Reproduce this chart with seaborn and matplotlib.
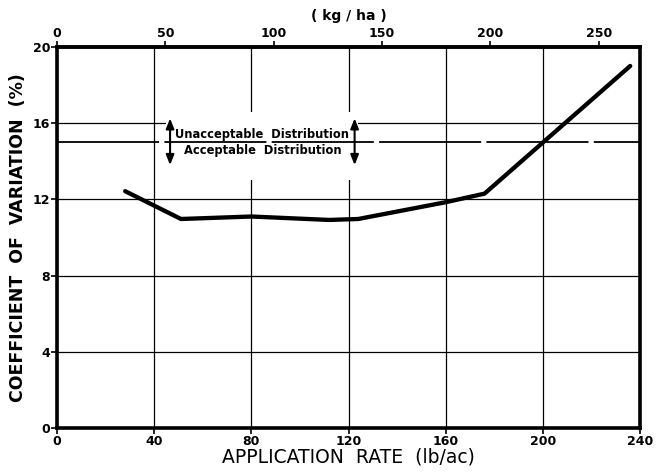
import matplotlib
matplotlib.use("Agg")
import matplotlib.pyplot as plt
import seaborn as sns
import pandas as pd
from matplotlib.patches import Rectangle

# ---- data ----
rate_lb_ac = [28, 51, 80, 112, 124, 160, 176, 236]
cv_percent = [12.43, 10.97, 11.1, 10.92, 10.97, 11.85, 12.3, 19.0]
threshold_cv = 15
x_ticks = [0, 40, 80, 120, 160, 200, 240]
y_ticks = [0, 4, 8, 12, 16, 20]
top_ticks_kg_ha = [0, 50, 100, 150, 200, 250]
LB_AC_TO_KG_HA = 1.12085

df = pd.DataFrame({"rate": rate_lb_ac, "cv": cv_percent})

sns.set_theme(style="white")
plt.rcParams["font.family"] = ["DejaVu Sans"]
plt.rcParams.update({"text.color": "black", "axes.labelcolor": "black",
                     "xtick.color": "black", "ytick.color": "black"})

fig = plt.figure(figsize=(6.57, 4.74), dpi=100)
ax = fig.add_axes([0.087, 0.097, 0.887, 0.804])

sns.lineplot(data=df, x="rate", y="cv", ax=ax, color="black", linewidth=3.1,
             zorder=5, sort=False)

ax.set_xlim(0, 240)
ax.set_ylim(0, 20)
ax.set_xticks(x_ticks)
ax.set_yticks(y_ticks)
ax.grid(True, color="black", linewidth=0.9, zorder=0)
ax.set_axisbelow(True)

# blank area behind the annotation (grid interrupted there)
ax.add_patch(Rectangle((45, 13.0), 79, 3.6, facecolor="white", edgecolor="none", zorder=1))

# threshold line (long dashes)
lw = 1.3
ax.axhline(threshold_cv, color="black", linewidth=lw, zorder=2,
           dashes=(73.5 / lw, 3.8 / lw))

# annotation arrows
for xa in (46.5, 122.5):
    ax.annotate("", xy=(xa, 16.25), xytext=(xa, 15.0),
                arrowprops=dict(arrowstyle="-|>,head_length=0.5,head_width=0.2",
                                color="black", lw=1.5, shrinkA=0, shrinkB=0), zorder=3)
    ax.annotate("", xy=(xa, 13.8), xytext=(xa, 15.0),
                arrowprops=dict(arrowstyle="-|>,head_length=0.5,head_width=0.2",
                                color="black", lw=1.5, shrinkA=0, shrinkB=0), zorder=3)

ax.text(84.5, 15.08, "Unacceptable  Distribution", ha="center", va="bottom",
        fontsize=8.3, fontweight="bold", zorder=4)
ax.text(84.5, 14.88, "Acceptable  Distribution", ha="center", va="top",
        fontsize=8.3, fontweight="bold", zorder=4)

for s in ax.spines.values():
    s.set_visible(True)
    s.set_color("black")
    s.set_linewidth(2.6)

ax.tick_params(axis="both", which="both", direction="out", length=4, width=1.2,
               color="black", labelcolor="black", labelsize=9, pad=1)
ax.tick_params(axis="x", bottom=True, top=False)
ax.tick_params(axis="y", left=True, right=False)
for lab in ax.get_xticklabels() + ax.get_yticklabels():
    lab.set_fontweight("bold")

ax.set_xlabel("APPLICATION  RATE  (lb/ac)", fontsize=13.5, labelpad=0, color="black")
ax.set_ylabel("COEFFICIENT  OF  VARIATION  (%)", fontsize=12.5, fontweight="bold",
              labelpad=4, color="black")

secax = ax.secondary_xaxis("top", functions=(lambda x: x * LB_AC_TO_KG_HA,
                                             lambda x: x / LB_AC_TO_KG_HA))
secax.set_xticks(top_ticks_kg_ha)
secax.tick_params(direction="out", length=4, width=1.2, labelsize=9, pad=1,
                  color="black", labelcolor="black")
for lab in secax.get_xticklabels():
    lab.set_fontweight("bold")
secax.set_xlabel("( kg / ha )", fontsize=10, fontweight="bold", labelpad=5, color="black")
secax.spines["top"].set_linewidth(2.6)

fig.savefig("out.png", dpi=100)
